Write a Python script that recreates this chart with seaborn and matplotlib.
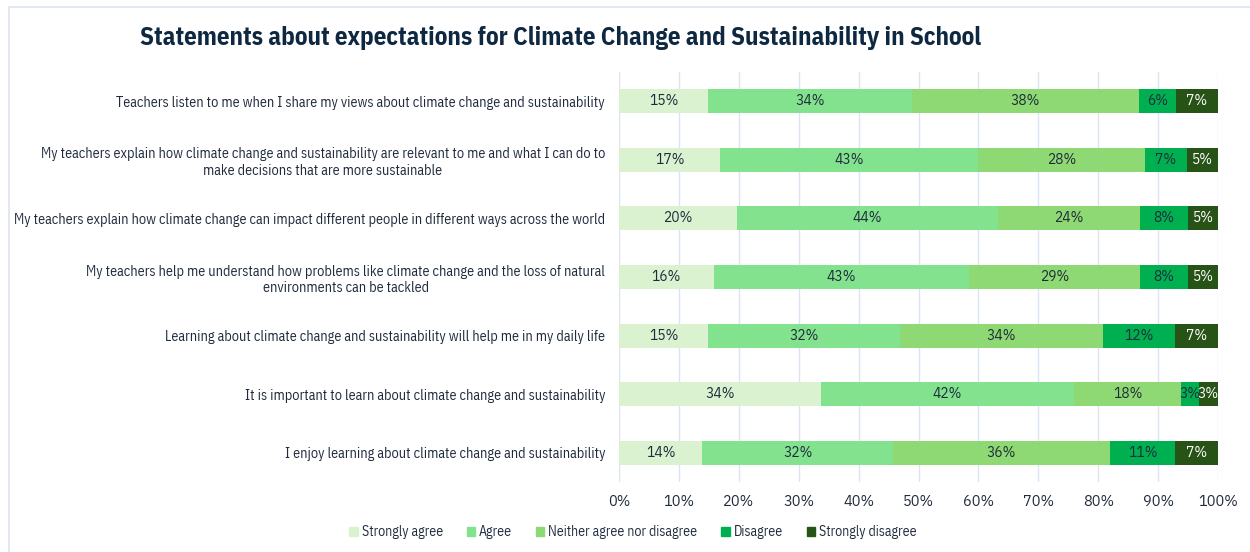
import matplotlib
matplotlib.use("Agg")
import matplotlib.pyplot as plt
import matplotlib.patches as mpatches
from matplotlib.lines import Line2D
import seaborn as sns
import pandas as pd
import numpy as np

statements = [
    "Teachers listen to me when I share my views about climate change and sustainability",
    "My teachers explain how climate change and sustainability are relevant to me and what I can do to\nmake decisions that are more sustainable",
    "My teachers explain how climate change can impact different people in different ways across the world",
    "My teachers help me understand how problems like climate change and the loss of natural\nenvironments can be tackled",
    "Learning about climate change and sustainability will help me in my daily life",
    "It is important to learn about climate change and sustainability",
    "I enjoy learning about climate change and sustainability",
]
categories = ["Strongly agree", "Agree", "Neither agree nor disagree", "Disagree", "Strongly disagree"]
strongly_agree = [14.9, 16.9, 19.7, 15.8, 14.9, 33.8, 13.9]
agree = [34.0, 43.0, 43.6, 42.6, 32.0, 42.1, 31.9]
neither = [37.9, 27.9, 23.6, 28.6, 33.9, 18.0, 36.1]
disagree = [6.2, 7.0, 8.1, 8.0, 12.1, 2.9, 11.0]
strongly_disagree = [7.0, 5.2, 5.0, 5.0, 7.1, 3.2, 7.1]
x_ticks = [0, 10, 20, 30, 40, 50, 60, 70, 80, 90, 100]

colors = ["#daf2d0", "#83e28e", "#8ed973", "#00b050", "#275317"]
label_colors = ["#1f2a3c", "#1f2a3c", "#1f2a3c", "#1f2a3c", "#ffffff"]
text_color = "#1f2a3c"
COND = ["IBM Plex Sans Condensed", "DejaVu Sans"]
PLEX = ["IBM Plex Sans", "DejaVu Sans"]

series = [strongly_agree, agree, neither, disagree, strongly_disagree]
vals = np.array(series)
cum = np.cumsum(vals, axis=0)

sns.set_theme(style="white")
plt.rcParams["font.family"] = COND

fig = plt.figure(figsize=(12.5, 5.52), dpi=100)
ax = fig.add_axes([619 / 1250, 1 - 482 / 552, (1218 - 619) / 1250, (482 - 72) / 552])

df = pd.DataFrame({"statement": statements})
for i in reversed(range(len(categories))):
    df["v"] = cum[i]
    sns.barplot(data=df, x="v", y="statement", color=colors[i], orient="h",
                width=0.41, saturation=1, ax=ax, zorder=3, linewidth=0)

for i in range(len(categories)):
    for j in range(len(statements)):
        center = cum[i][j] - vals[i][j] / 2
        ax.text(center, j, f"{round(vals[i][j]):.0f}%", ha="center", va="center",
                fontsize=10, color=label_colors[i], zorder=5, family=PLEX)

ax.set_xlim(0, 100)
ax.set_ylim(len(statements) - 0.5, -0.5)
ax.set_xticks(x_ticks)
ax.set_xticklabels([f"{t}%" for t in x_ticks], fontsize=10.5, color=text_color, family=PLEX)
ax.tick_params(axis="x", length=0, pad=9)
ax.tick_params(axis="y", length=0, pad=10)
for lab in ax.get_yticklabels():
    lab.set_fontsize(10.15)
    lab.set_color(text_color)
    lab.set_multialignment("center")
    lab.set_family(COND)
ax.set_xlabel("")
ax.set_ylabel("")
for s in ax.spines.values():
    s.set_visible(False)
ax.grid(axis="x", color="#dce4f0", linewidth=1, zorder=0)
ax.set_axisbelow(True)

fig.text(140 / 1250, 1 - 38 / 552, "Statements about expectations for Climate Change and Sustainability in School",
         fontsize=18, fontweight="bold", color="#0e2841", va="center", ha="left", family=COND)

handles = [mpatches.Patch(color=c, label=l) for c, l in zip(colors, categories)]
fig.legend(handles=handles, loc="center", bbox_to_anchor=(633 / 1250, 1 - 532 / 552), ncol=5,
           frameon=False, prop={"family": COND, "size": 10}, handlelength=0.6, handleheight=0.6,
           handletextpad=0.3, columnspacing=1.7, labelcolor=text_color)

# outer chart border
fig.add_artist(Line2D([9 / 1250, 9 / 1250], [0, 1 - 7 / 552], transform=fig.transFigure, color="#e3e8f0", lw=1.5))
fig.add_artist(Line2D([9 / 1250, 1], [1 - 7 / 552, 1 - 7 / 552], transform=fig.transFigure, color="#e3e8f0", lw=1.5))

fig.savefig("out.png", dpi=100, facecolor="white")
